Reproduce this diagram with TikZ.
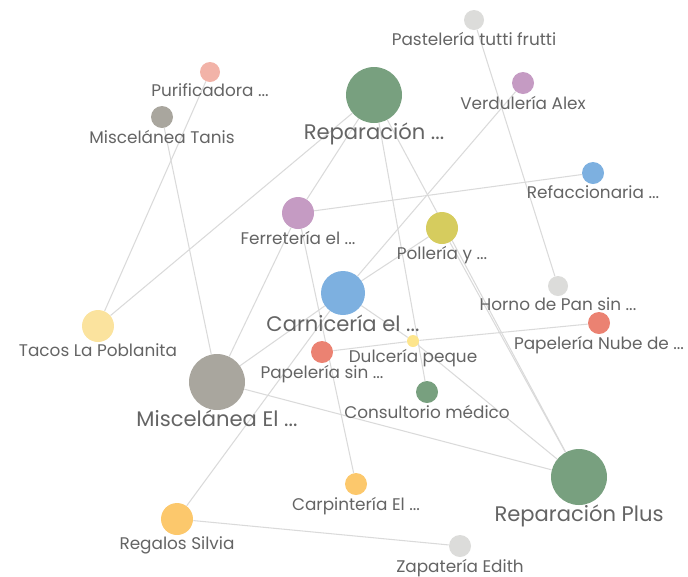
\documentclass[tikz,border=0pt]{standalone}
\usepackage{fontspec}
\setmainfont{Poppins}
\usepackage{tikz}
\usetikzlibrary{backgrounds}

\definecolor{lgrey}{HTML}{DCDCDA}
\definecolor{salmon}{HTML}{F2B3A8}
\definecolor{stone}{HTML}{A9A69E}
\definecolor{sage}{HTML}{78A07F}
\definecolor{mauve}{HTML}{C59BC3}
\definecolor{sky}{HTML}{7DB0E0}
\definecolor{olive}{HTML}{D6CC5E}
\definecolor{cream}{HTML}{FBE39E}
\definecolor{coral}{HTML}{EB8272}
\definecolor{butter}{HTML}{FDE58C}
\definecolor{amber}{HTML}{FCC86C}
\definecolor{txt}{HTML}{646464}
\definecolor{link}{HTML}{DADADA}

\begin{document}
\begin{tikzpicture}[x=0.02cm, y=-0.02cm]
		\tikzstyle{dot} = [circle, inner sep=0pt]
		\tikzstyle{sm} = [text=txt, font=\fontsize{9.6}{11}\selectfont, label distance=-2.6pt]
		\tikzstyle{bg} = [text=txt, font=\fontsize{12}{14}\selectfont, label distance=-3.6pt]
		\tikzstyle{link} = [draw=link, line width=0.6pt]

		\useasboundingbox (0,0) rectangle (688,576);

		% shops
		\path
		node[dot, fill=lgrey, minimum size=0.4cm, label={[sm]below:Pastelería tutti frutti}] (paste) at (474,20) {}
		node[dot, fill=salmon, minimum size=0.4cm, label={[sm]below:Purificadora ...}] (puri) at (210,72) {}
		node[dot, fill=stone, minimum size=0.44cm, label={[sm]below:Miscelánea Tanis}] (tanis) at (162,117) {}
		node[dot, fill=sage, minimum size=1.12cm, label={[bg]below:Reparación ...}] (repa) at (374,95) {}
		node[dot, fill=mauve, minimum size=0.44cm, label={[sm]below:Verdulería Alex}] (verdu) at (523,83) {}
		node[dot, fill=sky, minimum size=0.44cm, label={[sm]below:Refaccionaria ...}] (refa) at (593,173) {}
		node[dot, fill=mauve, minimum size=0.64cm, label={[sm]below:Ferretería el ...}] (ferre) at (298,213) {}
		node[dot, fill=olive, minimum size=0.64cm, label={[sm]below:Pollería y ...}] (pollo) at (442,228) {}
		node[dot, fill=sky, minimum size=0.88cm, label={[bg]below:Carnicería el ...}] (carni) at (343,293) {}
		node[dot, fill=lgrey, minimum size=0.4cm, label={[sm]below:Horno de Pan sin ...}] (horno) at (558,286) {}
		node[dot, fill=cream, minimum size=0.64cm, label={[sm]below:Tacos La Poblanita}] (tacos) at (98,326) {}
		node[dot, fill=coral, minimum size=0.44cm, label={[sm]below:Papelería Nube de ...}] (nube) at (599,323) {}
		node[dot, fill=butter, minimum size=0.24cm, label={[sm]below:Dulcería peque}] (dulce) at (413,341) {}
		node[dot, fill=coral, minimum size=0.44cm, label={[sm]below:Papelería sin ...}] (papsin) at (322,352) {}
		node[dot, fill=stone, minimum size=1.12cm, label={[bg]below:Miscelánea El ...}] (miscel) at (217,382) {}
		node[dot, fill=sage, minimum size=0.44cm, label={[sm]below:Consultorio médico}] (consul) at (427,392) {}
		node[dot, fill=sage, minimum size=1.12cm, label={[bg]below:Reparación Plus}] (plus) at (579,477) {}
		node[dot, fill=amber, minimum size=0.44cm, label={[sm]below:Carpintería El ...}] (carpin) at (356,484) {}
		node[dot, fill=amber, minimum size=0.64cm, label={[sm]below:Regalos Silvia}] (regalos) at (177,519) {}
		node[dot, fill=lgrey, minimum size=0.44cm, label={[sm]below:Zapatería Edith}] (zapa) at (460,546) {}
		;

		% links
		\begin{scope}[on background layer]
		\path[link]
		(puri) edge (tacos)
		(tanis) edge (miscel)
		(repa) edge (tacos)
		(repa) edge (ferre)
		(repa) edge (consul)
		(repa) edge (plus)
		(pollo) edge (plus)
		(verdu) edge (carni)
		(paste) edge (horno)
		(ferre) edge (refa)
		(ferre) edge (miscel)
		(ferre) edge (carpin)
		(carni) edge (pollo)
		(carni) edge (miscel)
		(carni) edge (dulce)
		(dulce) edge (plus)
		(papsin) edge (dulce)
		(dulce) edge (nube)
		(miscel) edge (plus)
		(regalos) edge (carni)
		(regalos) edge (zapa)
		;
		\end{scope}
\end{tikzpicture}
\end{document}
